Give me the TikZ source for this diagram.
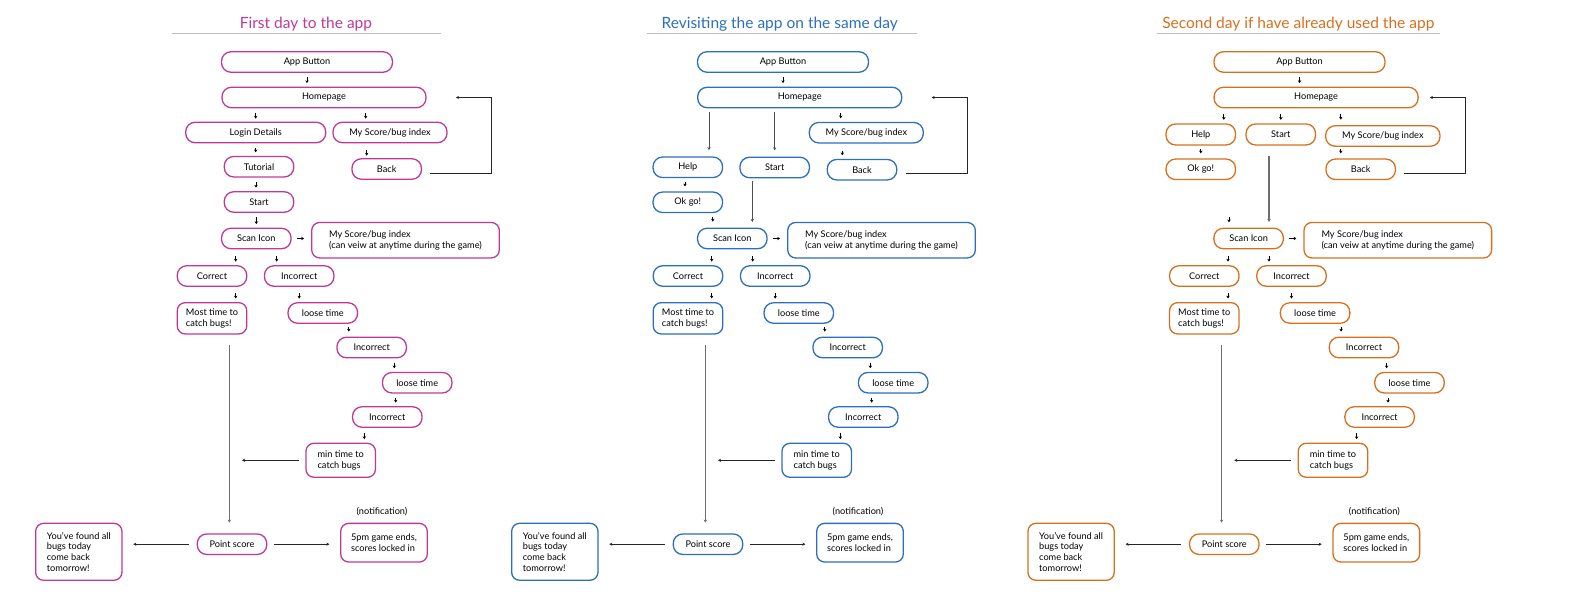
\documentclass[tikz,border=0pt]{standalone}
\usepackage{fontspec}
\setmainfont{Lato}
\usetikzlibrary{positioning,arrows.meta}
\usepackage{xcolor}
\definecolor{pinkc}{HTML}{BE3A96}
\definecolor{bluec}{HTML}{2C6FBD}
\definecolor{orangec}{HTML}{D5701F}
\definecolor{linegray}{HTML}{6E6E6E}
\definecolor{rulegray}{HTML}{BDBDBD}
\colorlet{boxcol}{pinkc}

\begin{document}
\begin{tikzpicture}[
    x=1pt, y=-1pt,
    block/.style={rectangle, draw=boxcol, line width=1.3pt, rounded corners=9.5pt, text centered, inner sep=0pt, minimum width=69.5pt, minimum height=20.5pt, text=black, font=\fontsize{9.2}{10.7}\selectfont},
    note/.style={block, align=left, rounded corners=8pt},
    title/.style={anchor=base, inner sep=0pt, font=\fontsize{15.5}{17}\selectfont},
    tick/.style={draw=black, line width=1pt, -{Stealth[length=2.8pt,width=3.4pt]}, shorten <=4.5pt, shorten >=3.5pt},
    arr/.style={draw=black!85, line width=1pt, -{Stealth[length=3pt,width=3.2pt]}},
    longarr/.style={draw=black!70, line width=1pt, -{Stealth[length=3pt,width=3.2pt]}},
    longline/.style={draw=linegray, line width=1.5pt, -{Stealth[length=3pt,width=3.4pt]}},
    loopline/.style={draw=black!85, line width=1pt, -{Stealth[length=3pt,width=3.2pt]}},
    rule/.style={draw=rulegray, line width=1.5pt}
  ]
  \useasboundingbox (0,0) rectangle (1569,596);

  % common part of the three flows: title, scan and game loop
  \foreach \p/\off/\pc/\ttl/\tx/\ul/\ur in {a/0/pinkc/First day to the app/306/171.7/440.7,
      b/476/bluec/Revisiting the app on the same day/303.7/170.7/440.7,
      c/992.3/orangec/Second day if have already used the app/306/164.4/447.7} {
    \begin{scope}[xshift=\off pt]
      \colorlet{boxcol}{\pc}
      \node[title, text=\pc] (\p-title) at (\tx,28.3) {\ttl};
      \draw[rule] (\ul,33.7) -- (\ur,33.7);

      \node[block] (\p-scan) at (256.3,238.5) {Scan Icon};
      \node[note, minimum width=187.6pt, minimum height=35.5pt] (\p-view) at (405.5,240.2) {My Score/bug index\\(can veiw at anytime during the game)};
      \node[block] (\p-cor) at (212,276) {Correct};
      \node[block] (\p-inc1) at (299.2,276) {Incorrect};
      \node[note, minimum height=31.3pt] (\p-most) at (212,318.3) {Most time to\\catch bugs!};
      \node[block] (\p-loose1) at (322.8,313) {loose time};
      \node[block] (\p-inc2) at (371.7,347.5) {Incorrect};
      \node[block] (\p-loose2) at (417.2,382.7) {loose time};
      \node[block] (\p-inc3) at (387.3,417) {Incorrect};
      \node[note, minimum height=34pt] (\p-min) at (340.7,460.3) {min time to\\catch bugs};
      \node[block] (\p-point) at (232,544.2) {Point score};
      \node[note, minimum width=86.3pt, minimum height=57pt] (\p-found) at (78.8,551.8) {You've found all\\bugs today\\come back\\tomorrow!};
      \node[note, minimum width=86.6pt, minimum height=38.7pt] (\p-end) at (384,542.7) {5pm game ends,\\scores locked in};
      \node[inner sep=0pt, font=\fontsize{9.2}{10.7}\selectfont, above=7pt of \p-end, xshift=-2pt] (\p-notif) {(notification)};

      \draw[tick, shorten <=5.2pt, shorten >=7pt] (\p-scan.east) -- (\p-scan.east -| \p-view.west);
      \draw[tick, shorten <=6.5pt] ([xshift=-20.6pt]\p-scan.south) -- ([xshift=-20.6pt]\p-scan.south |- \p-cor.north);
      \draw[tick, shorten <=6.5pt] ([xshift=20.4pt]\p-scan.south) -- ([xshift=20.4pt]\p-scan.south |- \p-inc1.north);
      \draw[tick, shorten <=6.3pt] ([xshift=23.7pt]\p-cor.south) -- ([xshift=23.7pt]\p-cor.south |- \p-most.north);
      \draw[tick, shorten <=6.3pt] (\p-inc1.south) -- (\p-inc1.south |- \p-loose1.north);
      \draw[tick, shorten <=3pt, shorten >=5pt] ([xshift=26pt]\p-loose1.south) -- ([xshift=26pt]\p-loose1.south |- \p-inc2.north);
      \draw[tick] ([xshift=22.6pt]\p-inc2.south) -- ([xshift=22.6pt]\p-inc2.south |- \p-loose2.north);
      \draw[tick, shorten <=4pt] ([xshift=-21.5pt]\p-loose2.south) -- ([xshift=-21.5pt]\p-loose2.south |- \p-inc3.north);
      \draw[tick, shorten <=5.2pt] ([xshift=-23pt]\p-inc3.south) -- ([xshift=-23pt]\p-inc3.south |- \p-min.north);
      \draw[arr, shorten <=6.7pt, shorten >=10pt] (\p-min.west) -- (\p-min.west -| \p-point.north);
      \draw[longline, shorten <=10pt, shorten >=10.7pt] ([xshift=-2.7pt]\p-point.north |- \p-most.south) -- ([xshift=-2.7pt]\p-point.north);
      \draw[arr, shorten <=8pt, shorten >=10.7pt] (\p-point.west) -- (\p-point.west -| \p-found.east);
      \draw[arr, shorten <=6.6pt, shorten >=10.7pt] (\p-point.east) -- (\p-point.east -| \p-end.west);
    \end{scope}
  }

  % first day
  \begin{scope}
    \colorlet{boxcol}{pinkc}
    \node[block, minimum width=171pt] (a-app) at (307,62) {App Button};
    \node[block, minimum width=204pt] (a-home) at (324,97.5) {Homepage};
    \node[block, minimum width=140pt] (a-login) at (255.7,132.5) {Login Details};
    \node[block, minimum width=114pt] (a-score) at (390,132.5) {My Score/bug index};
    \node[block] (a-tut) at (259,166.7) {Tutorial};
    \node[block] (a-back) at (386.7,169) {Back};
    \node[block] (a-start) at (259,202) {Start};

    \draw[tick] (a-app.south) -- (a-app.south |- a-home.north);
    \draw[tick, shorten >=3pt] (a-login.north |- a-home.south) -- (a-login.north);
    \draw[tick, shorten >=3pt] ([xshift=-24.3pt]a-score.north |- a-home.south) -- ([xshift=-24.3pt]a-score.north);
    \draw[tick] (a-login.south) -- (a-login.south |- a-tut.north);
    \draw[tick, shorten <=6.5pt, shorten >=2.5pt] ([xshift=-23.3pt]a-score.south) -- ([xshift=-23.3pt]a-score.south |- a-back.north);
    \draw[tick] ([xshift=-3pt]a-tut.south) -- ([xshift=-3pt]a-tut.south |- a-start.north);
    \draw[tick] (a-scan.north |- a-start.south) -- (a-scan.north);
    \draw[loopline] ([xshift=7.6pt,yshift=-4.3pt]a-back.east) -| ([xshift=65pt]a-home.east) -- ([xshift=29.3pt]a-home.east);
  \end{scope}

  % same day
  \begin{scope}[xshift=476pt]
    \colorlet{boxcol}{bluec}
    \node[block, minimum width=171pt] (b-app) at (307,62) {App Button};
    \node[block, minimum width=204pt] (b-home) at (323.7,97.5) {Homepage};
    \node[block, minimum width=114pt] (b-score) at (390.3,132.7) {My Score/bug index};
    \node[block] (b-help) at (211.8,167.3) {Help};
    \node[block] (b-start) at (298.7,167.5) {Start};
    \node[block] (b-back) at (386,169.7) {Back};
    \node[block] (b-okgo) at (211.8,202.3) {Ok go!};

    \draw[tick] (b-app.south) -- (b-app.south |- b-home.north);
    \draw[longarr, shorten <=4pt, shorten >=6.3pt] ([xshift=21.2pt]b-help.north |- b-home.south) -- ([xshift=21.2pt]b-help.north);
    \draw[longarr, shorten <=4pt, shorten >=6.3pt] (b-start.north |- b-home.south) -- (b-start.north);
    \draw[tick, shorten >=3.5pt] ([xshift=-25.6pt]b-score.north |- b-home.south) -- ([xshift=-25.6pt]b-score.north);
    \draw[tick, shorten <=7pt] ([xshift=-24pt]b-score.south) -- ([xshift=-24pt]b-score.south |- b-back.north);
    \draw[tick, shorten <=4pt, shorten >=5pt] ([xshift=-2.8pt]b-help.south) -- ([xshift=-2.8pt]b-help.south |- b-okgo.north);
    \draw[tick, shorten <=4pt, shorten >=6pt] ([xshift=25pt]b-okgo.south) -- ([xshift=25pt]b-okgo.south |- b-scan.north);
    \draw[longarr, shorten <=2.8pt, shorten >=5.6pt] ([xshift=-22.4pt]b-start.south) -- ([xshift=-22.4pt]b-start.south |- b-scan.north);
    \draw[loopline] ([xshift=8.3pt,yshift=-3.6pt]b-back.east) -| ([xshift=65pt]b-home.east) -- ([xshift=29.3pt]b-home.east);
  \end{scope}

  % second day
  \begin{scope}[xshift=992.3pt]
    \colorlet{boxcol}{orangec}
    \node[block, minimum width=171pt] (c-app) at (307.2,62) {App Button};
    \node[block, minimum width=204pt] (c-home) at (323.8,97.5) {Homepage};
    \node[block, minimum height=21pt] (c-help) at (208.5,134.5) {Help};
    \node[block, minimum height=21pt] (c-start) at (288.5,134.5) {Start};
    \node[block, minimum width=114.3pt] (c-score) at (390.5,136) {My Score/bug index};
    \node[block] (c-okgo) at (208.5,169.3) {Ok go!};
    \node[block] (c-back) at (368.4,169.3) {Back};
    \coordinate (c-free) at (236.7,216.8);

    \draw[tick] (c-app.south) -- (c-app.south |- c-home.north);
    \draw[tick, shorten <=6pt] ([xshift=23pt]c-help.north |- c-home.south) -- ([xshift=23pt]c-help.north);
    \draw[tick, shorten <=6pt] (c-start.north |- c-home.south) -- (c-start.north);
    \draw[tick, shorten <=6pt, shorten >=5.5pt] ([xshift=-42pt]c-score.north |- c-home.south) -- ([xshift=-42pt]c-score.north);
    \draw[tick, shorten <=3pt, shorten >=5pt] (c-help.south) -- (c-help.south |- c-okgo.north);
    \draw[tick, shorten <=2.3pt, shorten >=5pt] ([xshift=-42pt]c-score.south) -- ([xshift=-42pt]c-score.south |- c-back.north);
    \draw[longline, shorten <=10pt, shorten >=5.6pt] ([xshift=-11.8pt]c-start.south) -- ([xshift=-11.8pt]c-start.south |- c-scan.north);
    \draw[tick, shorten <=0pt, shorten >=5.3pt] (c-free) -- (c-free |- c-scan.north);
    \draw[loopline] ([xshift=7.6pt,yshift=-4pt]c-back.east) -| ([xshift=46.8pt]c-home.east) -- ([xshift=11.1pt]c-home.east);
  \end{scope}
\end{tikzpicture}
\end{document}
